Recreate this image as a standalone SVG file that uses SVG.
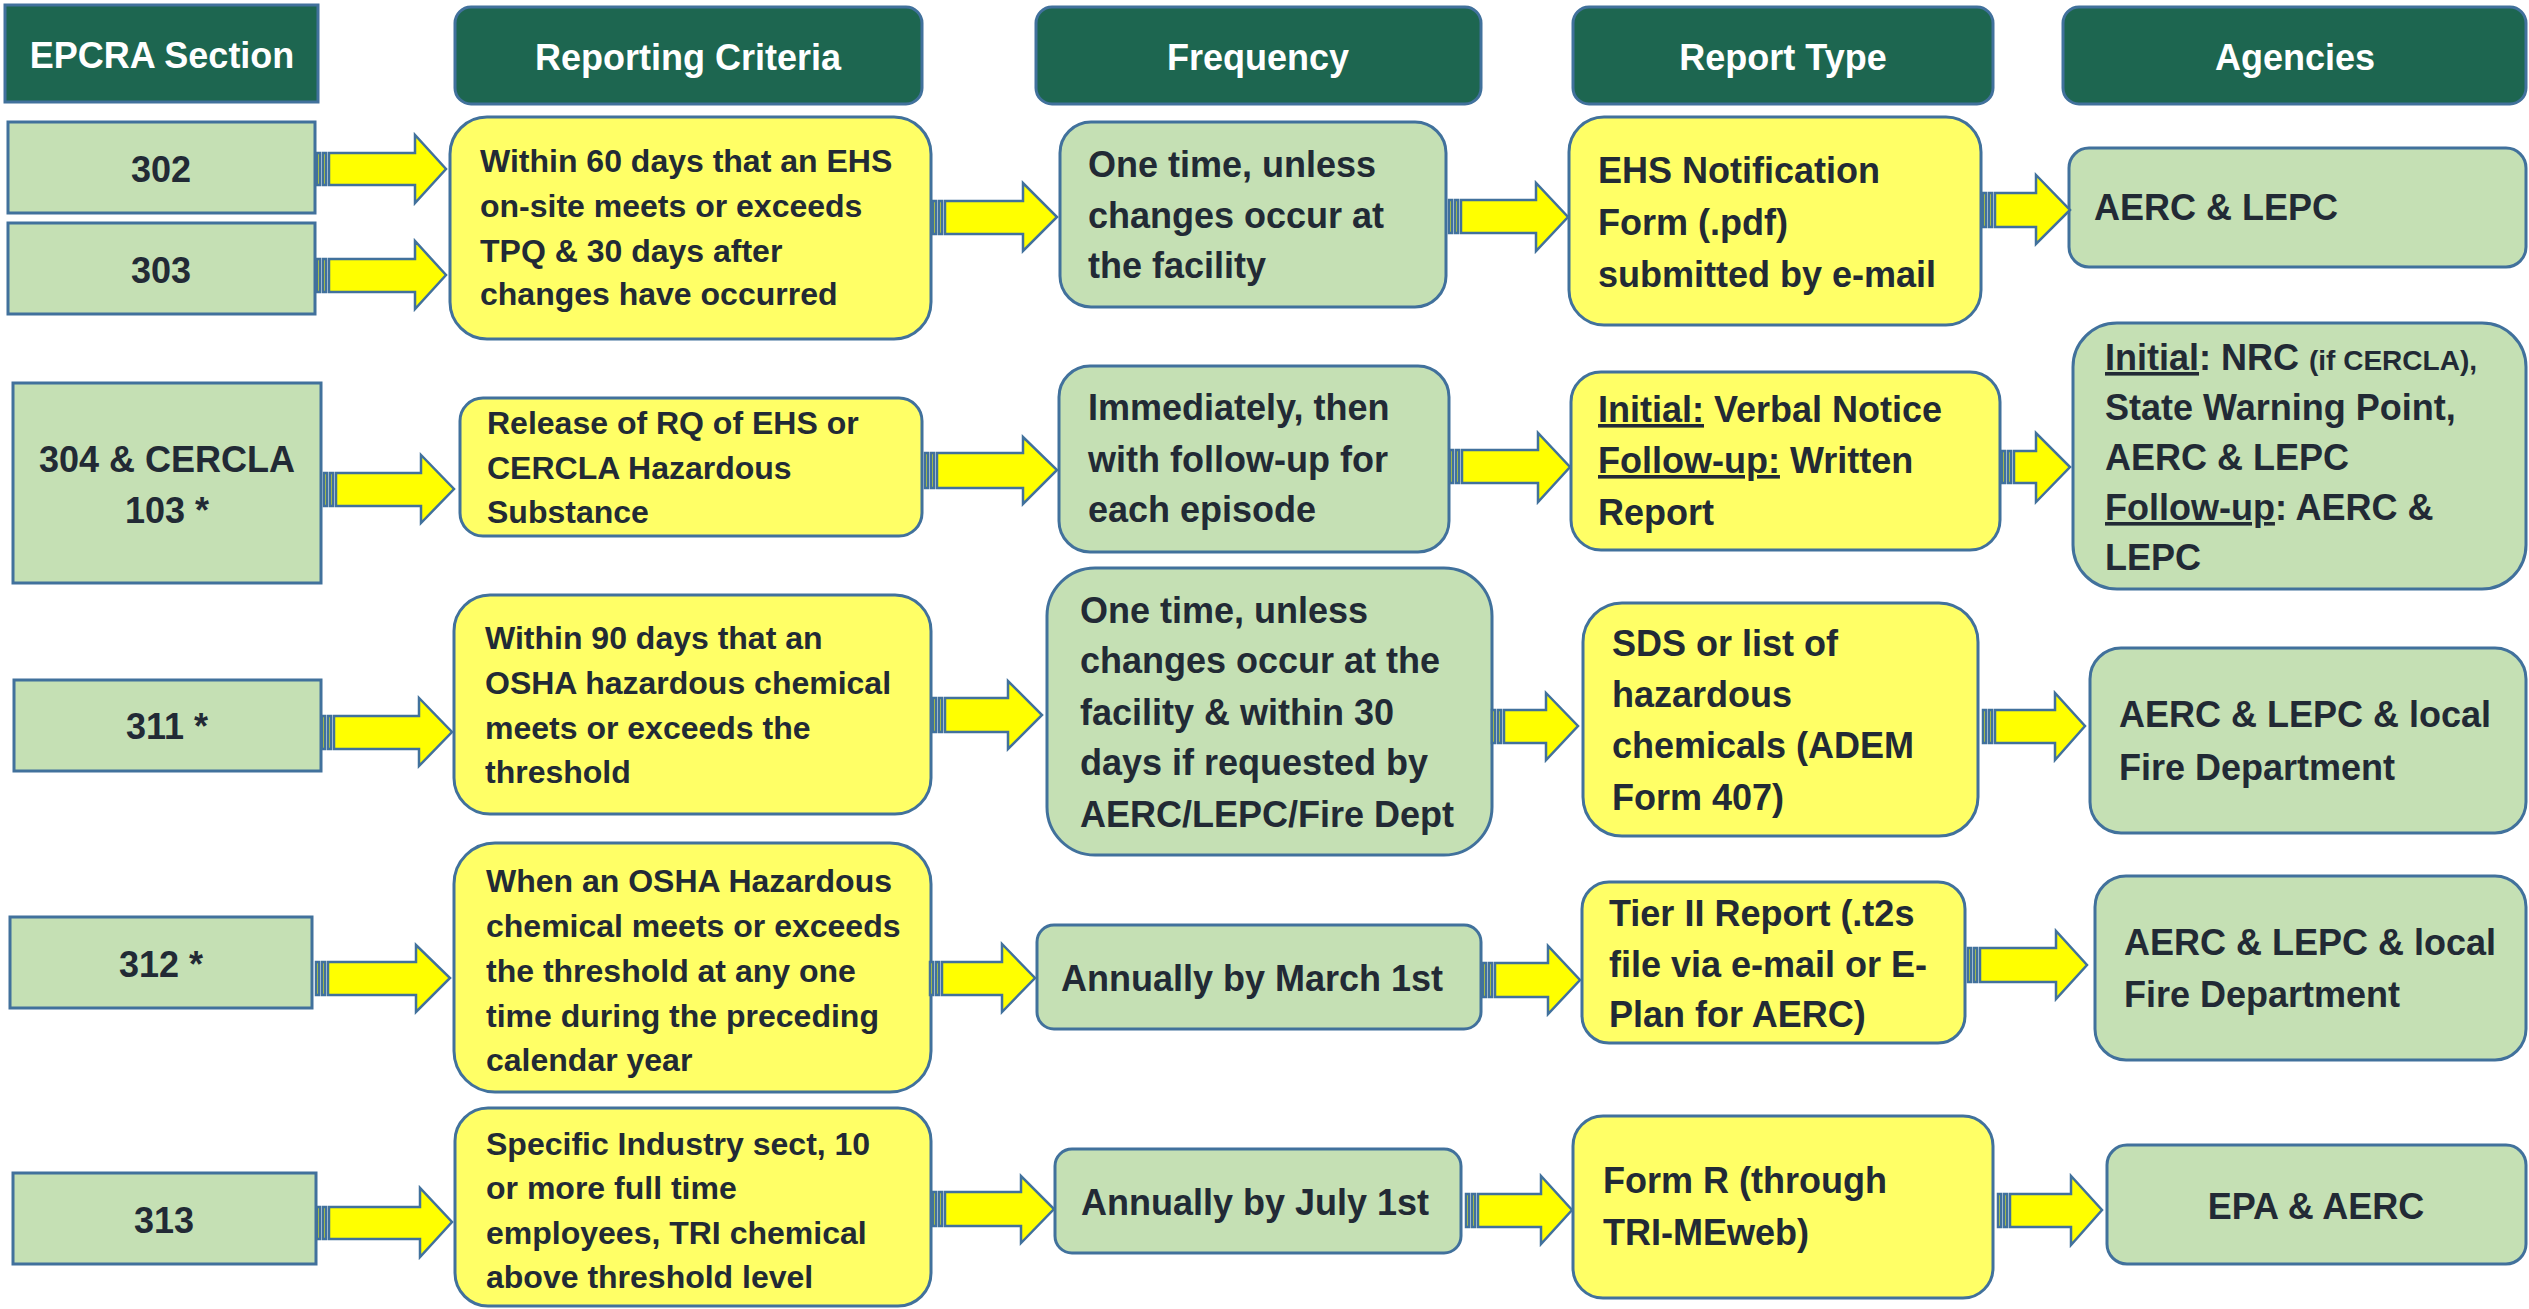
<svg xmlns="http://www.w3.org/2000/svg" width="2529" height="1309" viewBox="0 0 2529 1309">
<style>
text{font-family:"Liberation Sans",Arial,sans-serif;font-weight:bold;fill:#222a35}
.hdr rect{fill:#1d6650;stroke:#41719c;stroke-width:3}
.hdr text{fill:#ffffff;font-size:36px;text-anchor:middle}
.sec rect{fill:#c5e0b4;stroke:#41719c;stroke-width:3}
.sec text{font-size:36px;text-anchor:middle}
.yel rect{fill:#ffff66;stroke:#41719c;stroke-width:3}
.grn rect{fill:#c5e0b4;stroke:#41719c;stroke-width:3}
.s32{font-size:32px}
.s36{font-size:36px}
.sm{font-size:28px}
.u{text-decoration:underline}
#connectors path{fill:#ffff00;stroke:#41719c;stroke-width:2.5;stroke-linejoin:miter}
</style>

<!-- Headers -->
<g id="hdr-section" class="hdr"><rect x="5" y="5" width="313" height="97"/><text x="162" y="68">EPCRA Section</text></g>
<g id="hdr-criteria" class="hdr"><rect x="455" y="7" width="467" height="97" rx="16"/><text x="688" y="70">Reporting Criteria</text></g>
<g id="hdr-frequency" class="hdr"><rect x="1036" y="7" width="445" height="97" rx="16"/><text x="1258" y="70">Frequency</text></g>
<g id="hdr-reporttype" class="hdr"><rect x="1573" y="7" width="420" height="97" rx="16"/><text x="1783" y="70">Report Type</text></g>
<g id="hdr-agencies" class="hdr"><rect x="2063" y="7" width="463" height="97" rx="16"/><text x="2295" y="70">Agencies</text></g>

<!-- Section boxes -->
<g id="sec-302" class="sec"><rect x="8" y="122" width="307" height="91"/><text x="161" y="182">302</text></g>
<g id="sec-303" class="sec"><rect x="8" y="223" width="307" height="91"/><text x="161" y="283">303</text></g>
<g id="sec-304" class="sec"><rect x="13" y="383" width="308" height="200"/><text x="167" y="472">304 &amp; CERCLA</text><text x="167" y="523">103 *</text></g>
<g id="sec-311" class="sec"><rect x="14" y="680" width="307" height="91"/><text x="167" y="739">311 *</text></g>
<g id="sec-312" class="sec"><rect x="10" y="917" width="302" height="91"/><text x="161" y="977">312 *</text></g>
<g id="sec-313" class="sec"><rect x="13" y="1173" width="303" height="91"/><text x="164" y="1233">313</text></g>

<!-- Reporting criteria -->
<g id="crit-1" class="yel"><rect x="450" y="117" width="481" height="222" rx="37"/>
<text class="s32" x="480" y="172">Within 60 days that an EHS</text>
<text class="s32" x="480" y="217">on-site meets or exceeds</text>
<text class="s32" x="480" y="262">TPQ &amp; 30 days after</text>
<text class="s32" x="480" y="305">changes have occurred</text></g>
<g id="crit-2" class="yel"><rect x="460" y="398" width="462" height="138" rx="23"/>
<text class="s32" x="487" y="434">Release of RQ of EHS or</text>
<text class="s32" x="487" y="479">CERCLA Hazardous</text>
<text class="s32" x="487" y="523">Substance</text></g>
<g id="crit-3" class="yel"><rect x="454" y="595" width="477" height="219" rx="36"/>
<text class="s32" x="485" y="649">Within 90 days that an</text>
<text class="s32" x="485" y="694">OSHA hazardous chemical</text>
<text class="s32" x="485" y="739">meets or exceeds the</text>
<text class="s32" x="485" y="783">threshold</text></g>
<g id="crit-4" class="yel"><rect x="454" y="843" width="477" height="249" rx="41"/>
<text class="s32" x="486" y="892">When an OSHA Hazardous</text>
<text class="s32" x="486" y="937">chemical meets or exceeds</text>
<text class="s32" x="486" y="982">the threshold at any one</text>
<text class="s32" x="486" y="1027">time during the preceding</text>
<text class="s32" x="486" y="1071">calendar year</text></g>
<g id="crit-5" class="yel"><rect x="455" y="1108" width="476" height="198" rx="33"/>
<text class="s32" x="486" y="1155">Specific Industry sect, 10</text>
<text class="s32" x="486" y="1199">or more full time</text>
<text class="s32" x="486" y="1244">employees, TRI chemical</text>
<text class="s32" x="486" y="1288">above threshold level</text></g>

<!-- Frequency -->
<g id="freq-1" class="grn"><rect x="1060" y="122" width="386" height="185" rx="31"/>
<text class="s36" x="1088" y="177">One time, unless</text>
<text class="s36" x="1088" y="228">changes occur at</text>
<text class="s36" x="1088" y="278">the facility</text></g>
<g id="freq-2" class="grn"><rect x="1059" y="366" width="390" height="186" rx="31"/>
<text class="s36" x="1088" y="420">Immediately, then</text>
<text class="s36" x="1088" y="472">with follow-up for</text>
<text class="s36" x="1088" y="522">each episode</text></g>
<g id="freq-3" class="grn"><rect x="1047" y="568" width="445" height="287" rx="48"/>
<text class="s36" x="1080" y="623">One time, unless</text>
<text class="s36" x="1080" y="673">changes occur at the</text>
<text class="s36" x="1080" y="725">facility &amp; within 30</text>
<text class="s36" x="1080" y="775">days if requested by</text>
<text class="s36" x="1080" y="827">AERC/LEPC/Fire Dept</text></g>
<g id="freq-4" class="grn"><rect x="1037" y="925" width="444" height="104" rx="17"/>
<text class="s36" x="1061" y="991">Annually by March 1st</text></g>
<g id="freq-5" class="grn"><rect x="1055" y="1149" width="406" height="104" rx="17"/>
<text class="s36" x="1081" y="1215">Annually by July 1st</text></g>

<!-- Report type -->
<g id="rep-1" class="yel"><rect x="1569" y="117" width="412" height="208" rx="35"/>
<text class="s36" x="1598" y="183">EHS Notification</text>
<text class="s36" x="1598" y="235">Form (.pdf)</text>
<text class="s36" x="1598" y="287">submitted by e-mail</text></g>
<g id="rep-2" class="yel"><rect x="1571" y="372" width="429" height="178" rx="30"/>
<text class="s36" x="1598" y="422"><tspan class="u">Initial:</tspan> Verbal Notice</text>
<text class="s36" x="1598" y="473"><tspan class="u">Follow-up:</tspan> Written</text>
<text class="s36" x="1598" y="525">Report</text></g>
<g id="rep-3" class="yel"><rect x="1583" y="603" width="395" height="233" rx="39"/>
<text class="s36" x="1612" y="656">SDS or list of</text>
<text class="s36" x="1612" y="707">hazardous</text>
<text class="s36" x="1612" y="758">chemicals (ADEM</text>
<text class="s36" x="1612" y="810">Form 407)</text></g>
<g id="rep-4" class="yel"><rect x="1582" y="882" width="383" height="161" rx="27"/>
<text class="s36" x="1609" y="926">Tier II Report (.t2s</text>
<text class="s36" x="1609" y="977">file via e-mail or E-</text>
<text class="s36" x="1609" y="1027">Plan for AERC)</text></g>
<g id="rep-5" class="yel"><rect x="1573" y="1116" width="420" height="182" rx="30"/>
<text class="s36" x="1603" y="1193">Form R (through</text>
<text class="s36" x="1603" y="1245">TRI-MEweb)</text></g>

<!-- Agencies -->
<g id="ag-1" class="grn"><rect x="2069" y="148" width="457" height="119" rx="20"/>
<text class="s36" x="2094" y="220">AERC &amp; LEPC</text></g>
<g id="ag-2" class="grn"><rect x="2073" y="323" width="453" height="266" rx="44"/>
<text class="s36" x="2105" y="370"><tspan class="u">Initial</tspan>: NRC <tspan class="sm">(if CERCLA),</tspan></text>
<text class="s36" x="2105" y="420">State Warning Point,</text>
<text class="s36" x="2105" y="470">AERC &amp; LEPC</text>
<text class="s36" x="2105" y="520"><tspan class="u">Follow-up</tspan>: AERC &amp;</text>
<text class="s36" x="2105" y="570">LEPC</text></g>
<g id="ag-3" class="grn"><rect x="2090" y="648" width="436" height="185" rx="31"/>
<text class="s36" x="2119" y="727">AERC &amp; LEPC &amp; local</text>
<text class="s36" x="2119" y="780">Fire Department</text></g>
<g id="ag-4" class="grn"><rect x="2095" y="876" width="431" height="184" rx="31"/>
<text class="s36" x="2124" y="955">AERC &amp; LEPC &amp; local</text>
<text class="s36" x="2124" y="1007">Fire Department</text></g>
<g id="ag-5" class="grn"><rect x="2107" y="1145" width="419" height="119" rx="20"/>
<text class="s36" x="2316" y="1219" text-anchor="middle">EPA &amp; AERC</text></g>

<!-- Connectors: striped block arrows -->
<g id="connectors">
<path d="M317 153h3v32h-3z M323 153h3v32h-3z M329 153H415V135L446 169L415 203V185H329z"/>
<path d="M317 259h3v33h-3z M323 259h3v33h-3z M329 259H415V241L446 275L415 309V292H329z"/>
<path d="M933 201h3v33h-3z M939 201h3v33h-3z M945 201H1023V183L1057 217L1023 251V234H945z"/>
<path d="M1449 200h3v33h-3z M1455 200h3v33h-3z M1461 200H1536V183L1568 217L1536 251V233H1461z"/>
<path d="M1983 193h3v34h-3z M1989 193h3v34h-3z M1995 193H2036V175L2070 210L2036 244V227H1995z"/>
<path d="M324 473h3v33h-3z M330 473h3v33h-3z M336 473H421V455L454 489L421 523V506H336z"/>
<path d="M925 453h3v35h-3z M931 453h3v35h-3z M937 453H1023V437L1057 470L1023 504V488H937z"/>
<path d="M1450 450h3v33h-3z M1456 450h3v33h-3z M1462 450H1538V433L1570 467L1538 502V483H1462z"/>
<path d="M2002 451h3v32h-3z M2008 451h3v32h-3z M2014 451H2036V433L2070 467L2036 502V483H2014z"/>
<path d="M322 716h3v33h-3z M328 716h3v33h-3z M334 716H419V698L452 732L419 766V749H334z"/>
<path d="M933 698h3v34h-3z M939 698h3v34h-3z M945 698H1008V681L1042 715L1008 749V732H945z"/>
<path d="M1492 710h3v33h-3z M1498 710h3v33h-3z M1504 710H1546V693L1578 726L1546 760V743H1504z"/>
<path d="M1983 710h3v33h-3z M1989 710h3v33h-3z M1995 710H2055V693L2085 726L2055 760V743H1995z"/>
<path d="M316 962h3v33h-3z M322 962h3v33h-3z M328 962H416V945L450 978L416 1012V995H328z"/>
<path d="M930 962h3v33h-3z M936 962h3v33h-3z M942 962H1002V944L1035 978L1002 1012V995H942z"/>
<path d="M1483 963h3v34h-3z M1489 963h3v34h-3z M1495 963H1548V946L1580 980L1548 1014V997H1495z"/>
<path d="M1968 948h3v34h-3z M1974 948h3v34h-3z M1980 948H2056V931L2087 965L2056 999V982H1980z"/>
<path d="M317 1207h3v32h-3z M323 1207h3v32h-3z M329 1207H420V1188L452 1222L420 1257V1239H329z"/>
<path d="M933 1192h3v34h-3z M939 1192h3v34h-3z M945 1192H1021V1176L1054 1209L1021 1243V1226H945z"/>
<path d="M1466 1194h3v33h-3z M1472 1194h3v33h-3z M1478 1194H1541V1176L1572 1210L1541 1244V1227H1478z"/>
<path d="M1998 1194h3v33h-3z M2004 1194h3v33h-3z M2010 1194H2071V1176L2102 1210L2071 1245V1227H2010z"/>
</g>
</svg>
